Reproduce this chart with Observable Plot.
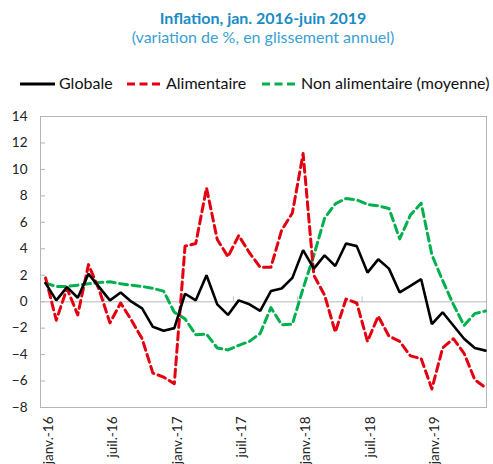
<!DOCTYPE html>
<html><head><meta charset="utf-8">
<script src="https://cdn.jsdelivr.net/npm/d3@7"></script>
<script src="https://cdn.jsdelivr.net/npm/@observablehq/plot@0.6"></script>
<style>
body{margin:0;background:#fff;font-family:Lato,sans-serif;}
#head{position:relative;width:493px;height:100px;}
#head div{position:absolute;line-height:1.2;white-space:nowrap;}
.title{left:40px;width:446px;text-align:center;top:7.5px;font-size:16px;font-weight:bold;color:#1a8cc4;}
.sub{left:40px;width:446px;text-align:center;top:27px;font-size:16px;color:#3a9fd2;}
.lt{top:73px;font-size:16px;color:#111;}
#head svg{position:absolute;top:0;left:0;}
</style></head><body>
<div id="head">
  <div class="title">Inflation, jan. 2016-juin 2019</div>
  <div class="sub">(variation de %, en glissement annuel)</div>
  <svg width="493" height="100">
    <line x1="20" x2="55" y1="84" y2="84" stroke="#000" stroke-width="3"/>
    <line x1="127" x2="160" y1="84" y2="84" stroke="#e3000f" stroke-width="3" stroke-dasharray="8,4.5"/>
    <line x1="262" x2="295" y1="84" y2="84" stroke="#00b04f" stroke-width="3" stroke-dasharray="8,4.5"/>
  </svg>
  <div class="lt" style="left:59px">Globale</div>
  <div class="lt" style="left:166px">Alimentaire</div>
  <div class="lt" style="left:301px">Non alimentaire (moyenne)</div>
</div>
<div id="chart"></div>
<script>
// Monthly values, janv. 2016 .. juin 2019 (42 months)
const globale = [1.4, 0.1, 1.1, 0.3, 2.1, 1.1, 0.1, 0.7, 0.0, -0.5, -1.9, -2.2, -2.0, 0.6, 0.1, 2.0, -0.2, -1.0, 0.1, -0.2, -0.7, 0.8, 1.0, 1.8, 3.9, 2.5, 3.5, 2.7, 4.4, 4.2, 2.2, 3.2, 2.5, 0.7, 1.2, 1.7, -1.7, -0.8, -1.8, -2.8, -3.5, -3.7];
const alimentaire = [1.8, -1.4, 1.0, -1.0, 2.8, 0.9, -1.6, -0.1, -1.4, -2.8, -5.4, -5.7, -6.2, 4.2, 4.4, 8.6, 4.7, 3.4, 5.0, 3.7, 2.6, 2.6, 5.4, 6.7, 11.2, 2.0, 0.5, -2.3, 0.2, -0.1, -3.0, -1.1, -2.6, -3.0, -4.1, -4.3, -6.6, -3.5, -2.8, -3.9, -5.9, -6.5];
const nonAlimentaire = [1.4, 1.15, 1.15, 1.25, 1.35, 1.45, 1.5, 1.35, 1.25, 1.15, 1.0, 0.8, -0.8, -1.3, -2.5, -2.45, -3.5, -3.65, -3.3, -3.0, -2.4, -0.45, -1.75, -1.7, 1.0, 3.5, 6.3, 7.4, 7.8, 7.7, 7.35, 7.25, 7.05, 4.75, 6.55, 7.45, 3.55, 1.6, -0.2, -1.8, -0.9, -0.7];
const tickMonths = [0, 6, 12, 18, 24, 30, 36];
const tickLabels = ["janv.-16", "juil.-16", "janv.-17", "juil.-17", "janv.-18", "juil.-18", "janv.-19"];
const yTicks = [-8, -6, -4, -2, 0, 2, 4, 6, 8, 10, 12, 14];

const toRows = arr => arr.map((v, i) => ({i, v}));
const boundaryTicks = tickMonths.slice(1).map(m => m - 0.5);

const spike = {draw(ctx, l) { ctx.moveTo(0, 0); ctx.lineTo(0, -l); }};

const chart = Plot.plot({
  width: 493,
  height: 364,
  marginTop: 16,
  marginBottom: 57,
  marginLeft: 40,
  marginRight: 7,
  style: {fontFamily: "Lato, sans-serif", fontSize: "13px", background: "#fff"},
  x: {type: "linear", domain: [-0.47, 41.09]},
  y: {domain: [-8, 14]},
  marks: [
    Plot.ruleY([0], {stroke: "#cfcfcf", strokeWidth: 1.5}),
    Plot.vector(boundaryTicks, {x: d => d, y: 0, length: 5, anchor: "start", shape: spike, stroke: "#c4c4c4", strokeWidth: 1}),
    Plot.frame({stroke: "#b5b5b5", strokeWidth: 1}),
    Plot.line(toRows(nonAlimentaire), {x: "i", y: "v", stroke: "#00b04f", strokeWidth: 3, strokeDasharray: "8,4.5"}),
    Plot.line(toRows(alimentaire), {x: "i", y: "v", stroke: "#e3000f", strokeWidth: 3, strokeDasharray: "8,4.5"}),
    Plot.line(toRows(globale), {x: "i", y: "v", stroke: "#000", strokeWidth: 2.6, strokeLinejoin: "miter"}),
    Plot.axisY({ticks: yTicks, tickSize: -5, tickPadding: 18, stroke: "#b5b5b5", fill: "#222", fontSize: 13.5, label: null}),
    Plot.axisX({ticks: tickMonths, tickFormat: d => tickLabels[tickMonths.indexOf(d)], tickRotate: -90, tickSize: 0, tickPadding: 9, dx: 3, fill: "#222", fontSize: 13.5, label: null})
  ]
});
document.getElementById("chart").appendChild(chart);
</script>
</body></html>
